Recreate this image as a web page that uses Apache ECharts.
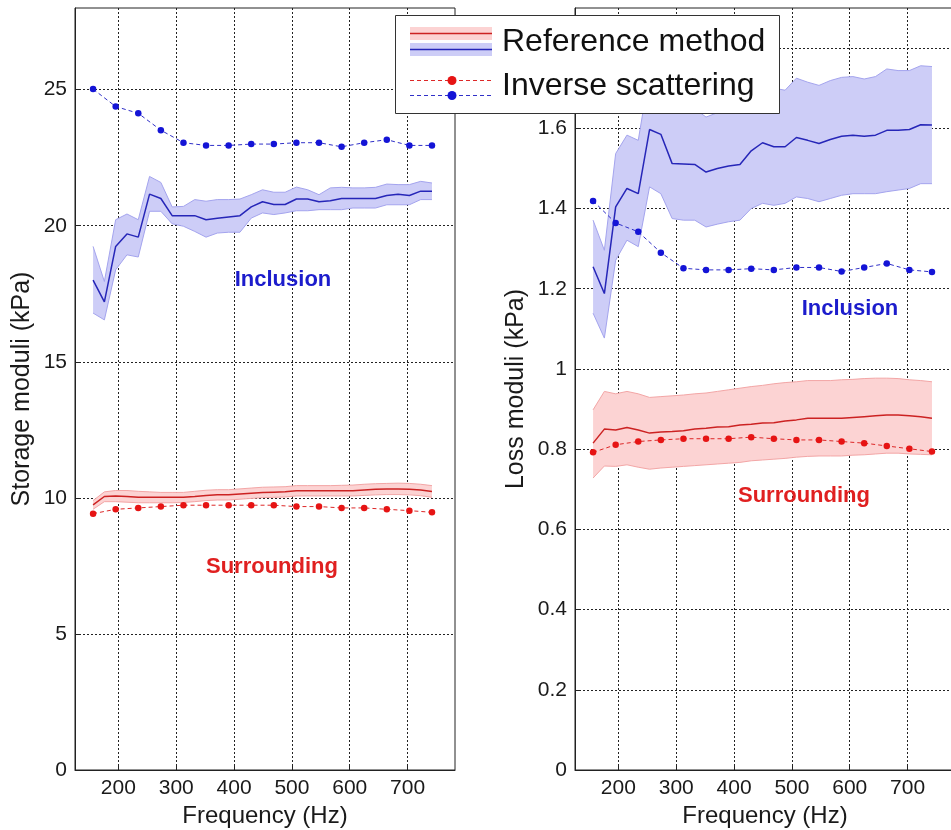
<!DOCTYPE html>
<html>
<head>
<meta charset="utf-8">
<script src="https://cdn.jsdelivr.net/npm/echarts@6/dist/echarts.min.js"></script>
<style>
  html, body { margin: 0; padding: 0; background: #fff; }
  #chart { width: 951px; height: 830px; }
</style>
</head>
<body>
<div id="chart"></div>
<script>
  // frequencies (Hz): reference method is sampled twice as dense as inverse scattering
  var freqRef = [156.25, 175.78, 195.31, 214.84, 234.38, 253.91, 273.44, 292.97, 312.5, 332.03,
    351.56, 371.09, 390.63, 410.16, 429.69, 449.22, 468.75, 488.28, 507.81, 527.34,
    546.88, 566.41, 585.94, 605.47, 625, 644.53, 664.06, 683.59, 703.13, 722.66, 742.19];
  var freqInv = [156.25, 195.31, 234.38, 273.44, 312.5, 351.56, 390.63, 429.69,
    468.75, 507.81, 546.88, 585.94, 625, 664.06, 703.13, 742.19];

  var xTicks = [200, 300, 400, 500, 600, 700];
  var storTicks = [0, 5, 10, 15, 20, 25];
  var lossTicks = [0, 0.2, 0.4, 0.6, 0.8, 1, 1.2, 1.4, 1.6, 1.8];

  // storage moduli (kPa) - inclusion
  var storIncMean = [18.0, 17.2, 19.24, 19.7, 19.58, 21.16, 21.0, 20.37, 20.37, 20.37, 20.22, 20.27, 20.32, 20.37, 20.69, 20.88,
    20.78, 20.78, 20.98, 20.98, 20.88, 20.92, 21.0, 21.0, 21.0, 21.0, 21.11, 21.16, 21.11, 21.27, 21.27];
  var storIncUpper = [19.24, 17.95, 20.22, 20.43, 20.22, 21.81, 21.59, 20.69, 20.71, 20.96, 20.9, 20.96, 20.96, 20.98, 21.14, 21.32,
    21.23, 21.23, 21.42, 21.32, 21.14, 21.39, 21.41, 21.39, 21.39, 21.41, 21.53, 21.51, 21.51, 21.63, 21.57];
  var storIncLower = [16.79, 16.54, 18.38, 18.93, 18.85, 20.53, 20.53, 20.07, 19.98, 19.79, 19.58, 19.73, 19.76, 19.76, 20.28, 20.47,
    20.41, 20.47, 20.55, 20.55, 20.59, 20.59, 20.59, 20.65, 20.65, 20.65, 20.77, 20.77, 20.77, 20.96, 20.96];
  var storIncInv = [25.02, 24.38, 24.13, 23.51, 23.05, 22.95, 22.95, 23.0, 23.0, 23.05, 23.05, 22.9, 23.05, 23.16, 22.95, 22.95];

  // storage moduli (kPa) - surrounding
  var storSurMean = [9.74, 10.05, 10.07, 10.05, 10.02, 10.02, 10.02, 10.02, 10.02, 10.05, 10.09, 10.11, 10.11, 10.14, 10.17, 10.2,
    10.21, 10.22, 10.26, 10.26, 10.26, 10.26, 10.26, 10.26, 10.29, 10.32, 10.33, 10.33, 10.32, 10.29, 10.23];
  var storSurUpper = [9.9, 10.22, 10.27, 10.27, 10.24, 10.22, 10.2, 10.2, 10.2, 10.24, 10.28, 10.3, 10.3, 10.33, 10.36, 10.39,
    10.4, 10.41, 10.45, 10.45, 10.45, 10.45, 10.46, 10.47, 10.5, 10.52, 10.53, 10.54, 10.53, 10.5, 10.45];
  var storSurLower = [9.58, 9.86, 9.86, 9.84, 9.82, 9.82, 9.82, 9.82, 9.83, 9.86, 9.9, 9.92, 9.92, 9.95, 9.98, 10.01,
    10.02, 10.03, 10.07, 10.07, 10.07, 10.07, 10.07, 10.07, 10.09, 10.11, 10.12, 10.12, 10.11, 10.08, 10.02];
  var storSurInv = [9.42, 9.58, 9.63, 9.68, 9.73, 9.73, 9.73, 9.73, 9.73, 9.68, 9.68, 9.63, 9.63, 9.58, 9.53, 9.47];

  // loss moduli (kPa) - inclusion
  var lossIncMean = [1.255, 1.188, 1.404, 1.45, 1.437, 1.597, 1.585, 1.512, 1.511, 1.51, 1.491, 1.5, 1.506, 1.51, 1.544, 1.564,
    1.554, 1.554, 1.577, 1.57, 1.562, 1.572, 1.58, 1.583, 1.58, 1.583, 1.595, 1.595, 1.597, 1.609, 1.608];
  var lossIncUpper = [1.371, 1.296, 1.537, 1.583, 1.57, 1.74, 1.733, 1.649, 1.651, 1.649, 1.628, 1.639, 1.645, 1.649, 1.688, 1.715,
    1.7, 1.695, 1.725, 1.715, 1.707, 1.719, 1.727, 1.729, 1.723, 1.729, 1.748, 1.744, 1.744, 1.756, 1.754];
  var lossIncLower = [1.139, 1.077, 1.271, 1.321, 1.305, 1.454, 1.437, 1.375, 1.371, 1.371, 1.354, 1.361, 1.367, 1.371, 1.4, 1.413,
    1.408, 1.413, 1.429, 1.425, 1.417, 1.425, 1.433, 1.437, 1.437, 1.437, 1.442, 1.446, 1.45, 1.462, 1.462];
  var lossIncInv = [1.419, 1.364, 1.342, 1.29, 1.251, 1.247, 1.247, 1.25, 1.247, 1.253, 1.253, 1.243, 1.253, 1.263, 1.247, 1.242];

  // loss moduli (kPa) - surrounding
  var lossSurMean = [0.815, 0.85, 0.848, 0.854, 0.848, 0.84, 0.843, 0.844, 0.846, 0.85, 0.852, 0.855, 0.856, 0.86, 0.862, 0.865,
    0.866, 0.87, 0.873, 0.877, 0.877, 0.877, 0.877, 0.879, 0.881, 0.883, 0.885, 0.885, 0.883, 0.881, 0.877];
  var lossSurUpper = [0.898, 0.944, 0.938, 0.944, 0.938, 0.929, 0.931, 0.933, 0.935, 0.938, 0.94, 0.944, 0.948, 0.952, 0.956, 0.959,
    0.963, 0.966, 0.968, 0.971, 0.971, 0.971, 0.973, 0.974, 0.976, 0.977, 0.977, 0.976, 0.973, 0.971, 0.968];
  var lossSurLower = [0.728, 0.758, 0.757, 0.761, 0.755, 0.75, 0.753, 0.755, 0.757, 0.759, 0.761, 0.763, 0.765, 0.767, 0.771, 0.773,
    0.775, 0.777, 0.78, 0.782, 0.783, 0.783, 0.783, 0.785, 0.786, 0.788, 0.79, 0.79, 0.788, 0.787, 0.786];
  var lossSurInv = [0.792, 0.811, 0.819, 0.823, 0.826, 0.826, 0.826, 0.83, 0.826, 0.823, 0.823, 0.819, 0.815, 0.808, 0.801, 0.794];

  var FONT = '"Liberation Sans", Arial, sans-serif';
  var BLUE = { line: '#2626b8', fill: '#cdcdf7', edge: '#a4a4ee', dot: '#1414d6', dash: '#3030c8', text: '#1c1ccc' };
  var RED = { line: '#cc2222', fill: '#fcd3d3', edge: '#f3a6a6', dot: '#e61414', dash: '#dd2828', text: '#e02020' };

  function pairs(xs, ys) {
    return ys.map(function (y, i) { return [xs[i], y]; });
  }

  // shaded band (custom polygon between lower and upper) + mean line
  function refSeries(idx, mean, upper, lower, c) {
    var rows = freqRef.map(function (f, i) { return [f, lower[i], upper[i]]; });
    return [{
      type: 'custom', xAxisIndex: idx, yAxisIndex: idx, silent: true, z: 2,
      encode: { x: 0, y: [1, 2] },
      data: rows,
      renderItem: function (params, api) {
        if (params.dataIndexInside !== 0) return null;
        var n = params.dataInsideLength;
        var top = [], bot = [];
        for (var i = 0; i < n; i++) {
          top.push(api.coord([api.value(0, i), api.value(2, i)]));
          bot.push(api.coord([api.value(0, i), api.value(1, i)]));
        }
        return {
          type: 'group', children: [
            { type: 'polygon', shape: { points: top.concat(bot.slice().reverse()) }, style: { fill: c.fill } },
            { type: 'polyline', shape: { points: top }, style: { stroke: c.edge, lineWidth: 1, fill: null } },
            { type: 'polyline', shape: { points: bot }, style: { stroke: c.edge, lineWidth: 1, fill: null } }
          ]
        };
      }
    }, {
      type: 'line', xAxisIndex: idx, yAxisIndex: idx,
      data: pairs(freqRef, mean), symbol: 'none',
      lineStyle: { color: c.line, width: 1.5 }, z: 3
    }];
  }

  function invSeries(idx, vals, c) {
    return {
      type: 'line', xAxisIndex: idx, yAxisIndex: idx,
      data: pairs(freqInv, vals), symbol: 'circle', symbolSize: 6.5,
      itemStyle: { color: c.dot },
      lineStyle: { color: c.dash, width: 1, type: [4, 3] }, z: 4
    };
  }

  function xAx(idx) {
    return {
      gridIndex: idx, type: 'value', min: 125, max: 782,
      name: 'Frequency (Hz)', nameLocation: 'middle', nameGap: 28,
      nameTextStyle: { fontSize: 24, color: '#1a1a1a', fontFamily: FONT },
      axisLine: { onZero: false, lineStyle: { color: '#222', width: 1 } },
      axisTick: { inside: true, length: 6, customValues: xTicks, lineStyle: { color: '#222' } },
      axisLabel: { customValues: xTicks, fontSize: 21, color: '#1a1a1a', margin: 8, fontFamily: FONT },
      splitLine: { show: true, lineStyle: { color: '#222', width: 1, type: [2, 2] } }
    };
  }

  function yAx(idx, max, ticks, name, gap) {
    return {
      gridIndex: idx, type: 'value', min: 0, max: max,
      name: name, nameLocation: 'middle', nameGap: gap,
      nameTextStyle: { fontSize: 25, color: '#1a1a1a', fontFamily: FONT },
      axisLine: { show: true, onZero: false, lineStyle: { color: '#222', width: 1 } },
      axisTick: { show: true, inside: true, length: 6, customValues: ticks, lineStyle: { color: '#222' } },
      axisLabel: { customValues: ticks, fontSize: 21, color: '#1a1a1a', margin: 8, fontFamily: FONT },
      splitLine: { show: true, lineStyle: { color: '#222', width: 1, type: [2, 2] } }
    };
  }

  function note(text, x, y, color) {
    return {
      type: 'text', x: x, y: y, z: 50,
      style: { text: text, fill: color, font: 'bold 22px ' + FONT, align: 'center', verticalAlign: 'middle' }
    };
  }

  // legend box drawn by hand (MATLAB style)
  var legendParts = [
    { type: 'rect', shape: { x: 395.5, y: 15.5, width: 384, height: 98 }, style: { fill: '#fff', stroke: '#333', lineWidth: 1 } },
    { type: 'rect', shape: { x: 410, y: 27, width: 82, height: 13 }, style: { fill: RED.fill } },
    { type: 'line', shape: { x1: 410, y1: 33.5, x2: 492, y2: 33.5 }, style: { stroke: RED.line, lineWidth: 1.5 } },
    { type: 'rect', shape: { x: 410, y: 43, width: 82, height: 13 }, style: { fill: BLUE.fill } },
    { type: 'line', shape: { x1: 410, y1: 49.5, x2: 492, y2: 49.5 }, style: { stroke: BLUE.line, lineWidth: 1.5 } },
    { type: 'line', shape: { x1: 410, y1: 80.5, x2: 492, y2: 80.5 }, style: { stroke: RED.dash, lineWidth: 1, lineDash: [4, 3] } },
    { type: 'circle', shape: { cx: 452, cy: 80.5, r: 4.5 }, style: { fill: RED.dot } },
    { type: 'line', shape: { x1: 410, y1: 95.5, x2: 492, y2: 95.5 }, style: { stroke: BLUE.dash, lineWidth: 1, lineDash: [4, 3] } },
    { type: 'circle', shape: { cx: 452, cy: 95.5, r: 4.5 }, style: { fill: BLUE.dot } },
    { type: 'text', x: 502, y: 42.5, style: { text: 'Reference method', font: '32px ' + FONT, fill: '#111', verticalAlign: 'middle' } },
    { type: 'text', x: 502, y: 86, style: { text: 'Inverse scattering', font: '32px ' + FONT, fill: '#111', verticalAlign: 'middle' } }
  ];
  legendParts.forEach(function (el, i) { el.z = 100 + i; });

  var chart = echarts.init(document.getElementById('chart'), null, { renderer: 'canvas' });
  var option = {
    backgroundColor: '#fff',
    animation: false,
    textStyle: { fontFamily: FONT },
    grid: [
      { left: 75, top: 8, width: 380, height: 762, show: true, borderColor: '#222', borderWidth: 1, containLabel: false, outerBoundsMode: 'none' },
      { left: 575, top: 8, width: 380, height: 762, show: true, borderColor: '#222', borderWidth: 1, containLabel: false, outerBoundsMode: 'none' }
    ],
    xAxis: [xAx(0), xAx(1)],
    yAxis: [
      yAx(0, 28, storTicks, 'Storage moduli (kPa)', 40),
      yAx(1, 1.9, lossTicks, 'Loss moduli (kPa)', 46)
    ],
    series: [].concat(
      refSeries(0, storIncMean, storIncUpper, storIncLower, BLUE),
      refSeries(0, storSurMean, storSurUpper, storSurLower, RED),
      refSeries(1, lossIncMean, lossIncUpper, lossIncLower, BLUE),
      refSeries(1, lossSurMean, lossSurUpper, lossSurLower, RED),
      [invSeries(0, storIncInv, BLUE), invSeries(0, storSurInv, RED),
       invSeries(1, lossIncInv, BLUE), invSeries(1, lossSurInv, RED)]
    ),
    graphic: [
      note('Inclusion', 283, 280, BLUE.text),
      note('Surrounding', 272, 567, RED.text),
      note('Inclusion', 850, 309, BLUE.text),
      note('Surrounding', 804, 496, RED.text)
    ].concat(legendParts)
  };
  chart.setOption(option);
</script>
</body>
</html>
